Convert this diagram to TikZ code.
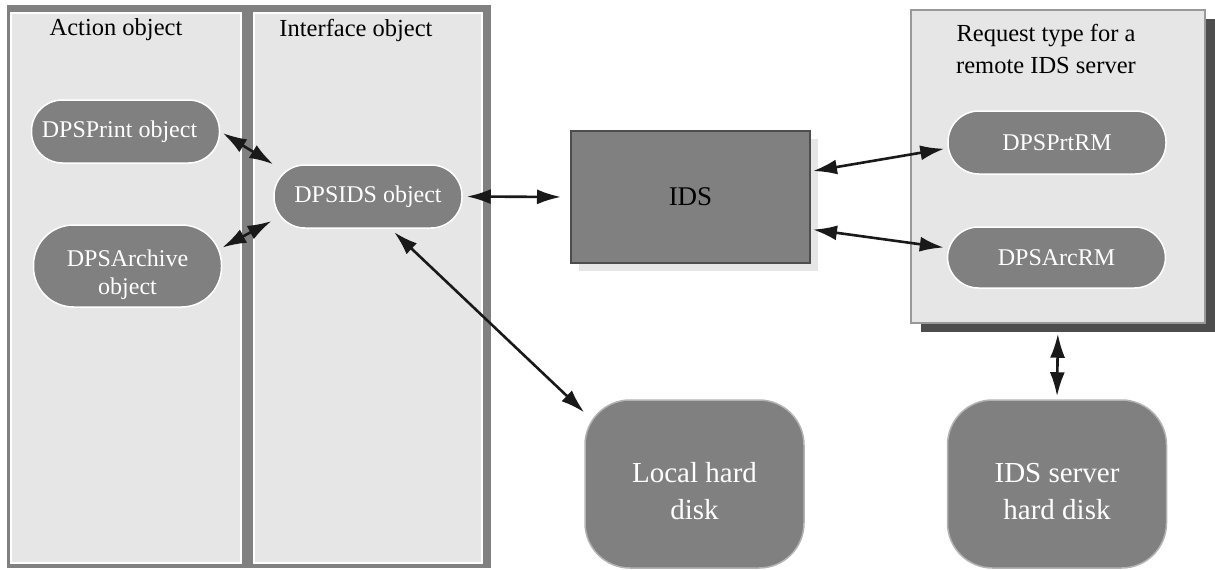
\documentclass[tikz,border=0pt]{standalone}
\usepackage{fontspec}
\setmainfont{Liberation Serif}
\usetikzlibrary{arrows.meta,shadows}

\definecolor{framegray}{HTML}{808080}
\definecolor{panelgray}{HTML}{E6E6E6}
\definecolor{edgegray}{HTML}{4D4D4D}
\definecolor{rimgray}{HTML}{B3B3B3}
\definecolor{boxgray}{HTML}{999999}

% two-line text, pushed a little below the centre
\newcommand{\lowtext}[2]{\raisebox{#1}[\height][\depth]{\begin{tabular}{@{}c@{}}#2\end{tabular}}}

\tikzset{
  panel/.style={draw=white, line width=1.5pt, fill=panelgray, minimum width=230pt, minimum height=550pt, inner sep=0pt},
  objnode/.style={draw=white, line width=1.5pt, fill=framegray, text=white, rounded corners=31pt, minimum width=188pt, minimum height=63pt, inner sep=0pt, align=center, font=\fontsize{24}{28}\selectfont},
  rmnode/.style={objnode, minimum width=218pt},
  disknode/.style={draw=rimgray, line width=1.5pt, fill=framegray, text=white, rounded corners=45pt, minimum width=219pt, minimum height=168pt, inner sep=0pt, align=center, font=\fontsize{29}{37}\selectfont},
  paneltitle/.style={font=\fontsize{24.5}{32}\selectfont, align=center},
  dblarrow/.style={<->, >={Latex[length=24pt,width=15pt]}, line width=2.6pt, draw=black!90},
}

\begin{document}
\begin{tikzpicture}[x=1pt, y=-1pt]

    \useasboundingbox (0,0) rectangle (1215,570);

    % left frame with its two columns
    \node[fill=framegray, minimum width=484pt, minimum height=563pt, inner sep=0pt] (frame) at (249,286.5) {};
    \node[panel] (actpanel) at (126,288) {};
    \node[panel, minimum width=228pt] (ifpanel) at (368,288) {};
    \node[paneltitle] (acttitle) at (116,30) {Action object};
    \node[paneltitle] (iftitle) at (356,30) {Interface object};

    \node[objnode] (print) at (125.5,131.5) {DPSPrint object\hspace*{12pt}};
    \node[objnode, minimum height=82pt, rounded corners=40pt] (archive) at (127.5,266) {\lowtext{-9pt}{DPSArchive\\object}};
    \node[objnode] (dpsids) at (368,196.5) {DPSIDS object};

    % IDS box
    \node[draw=edgegray, line width=2pt, fill=framegray, minimum width=239pt, minimum height=132pt,
          font=\fontsize{27}{30}\selectfont,
          drop shadow={shadow xshift=8pt, shadow yshift=-8pt, fill=panelgray, opacity=1}] (ids) at (690.5,197) {IDS};

    % remote request types
    \node[draw=boxgray, line width=1.5pt, fill=panelgray, minimum width=294pt, minimum height=313pt, inner sep=0pt,
          drop shadow={shadow xshift=10pt, shadow yshift=-9pt, fill=edgegray, opacity=1}] (remote) at (1058,166.5) {};
    \node[paneltitle] (remotetitle) at (1046,49) {Request type for a\\remote IDS server};
    \node[rmnode] (prtrm) at (1057,142.5) {DPSPrtRM};
    \node[rmnode, minimum height=61pt] (arcrm) at (1056.5,257.5) {DPSArcRM};

    % disks
    \node[disknode] (local) at (694.5,484) {\lowtext{-10pt}{Local hard\\disk}};
    \node[disknode] (srvdisk) at (1057,484) {\lowtext{-10pt}{IDS server\\hard disk}};

    % connectors
    \draw[dblarrow, shorten <=3pt] (print.east) -- (dpsids.north west);
    \draw[dblarrow, shorten >=2pt] (archive.11) -- (dpsids.194);
    \draw[dblarrow, shorten <=4pt, shorten >=9pt] (dpsids.east) -- (ids.west);
    \draw[dblarrow, shorten <=2pt, shorten >=3pt] (ids.12) -- (prtrm.183);
    \draw[dblarrow, shorten <=2pt, shorten >=3pt] (ids.-15) -- (arcrm.175);
    \draw[dblarrow, shorten <=5pt] (dpsids.-55) -- (local.147);
    \draw[dblarrow, shorten <=10pt, shorten >=3pt] (remote.south) -- (srvdisk.north);

\end{tikzpicture}
\end{document}
